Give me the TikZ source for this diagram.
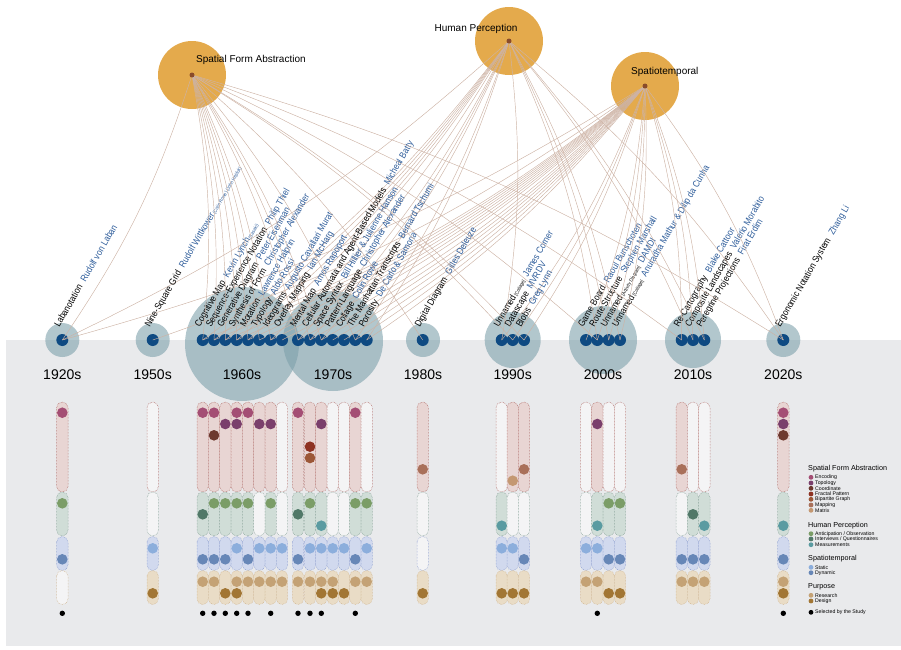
\documentclass[tikz,border=0pt]{standalone}
\usepackage{fontspec}
\setmainfont{Liberation Sans}
\newfontfamily\narrowfont{Liberation Sans}[FakeStretch=0.86]
\usepackage{tikz}
\usetikzlibrary{positioning}

\definecolor{bandgray}{HTML}{E9EAEC}
\definecolor{decteal}{HTML}{7EA1AB}
\definecolor{decblue}{HTML}{0E4A82}
\definecolor{catorange}{HTML}{E4AA4C}
\definecolor{catbrown}{HTML}{8A4B2A}
\definecolor{linkbrown}{HTML}{CDB3A5}
\definecolor{authorblue}{HTML}{2D5C9A}
% dot colours, one per row of the matrix
\definecolor{dot1}{HTML}{A44E74}
\definecolor{dot2}{HTML}{7A3F6C}
\definecolor{dot3}{HTML}{6D392F}
\definecolor{dot4}{HTML}{8E3222}
\definecolor{dot5}{HTML}{9C5737}
\definecolor{dot6}{HTML}{A9705A}
\definecolor{dot7}{HTML}{C49872}
\definecolor{dot8}{HTML}{7B9D67}
\definecolor{dot9}{HTML}{517868}
\definecolor{dot10}{HTML}{5A9BA1}
\definecolor{dot11}{HTML}{8CAEDC}
\definecolor{dot12}{HTML}{6787B7}
\definecolor{dot13}{HTML}{C4A275}
\definecolor{dot14}{HTML}{A27634}
% capsule colours
\definecolor{blankfill}{HTML}{F4F4F5}
\definecolor{spat1}{HTML}{E8D5D3}
\definecolor{spatB}{HTML}{A85A55}
\definecolor{hum1}{HTML}{D0DDD7}
\definecolor{humB}{HTML}{7E9C90}
\definecolor{tmp1}{HTML}{D1D9EE}
\definecolor{tmpB}{HTML}{8194CC}
\definecolor{pur1}{HTML}{E9DCC6}
\definecolor{purB}{HTML}{CDAF86}
\colorlet{spat0}{blankfill}
\colorlet{hum0}{blankfill}
\colorlet{tmp0}{blankfill}
\colorlet{pur0}{blankfill}

\tikzstyle{link} = [draw=linkbrown, line width=0.45pt]
\tikzstyle{decade} = [circle, fill=decteal, fill opacity=0.6, inner sep=0]
\tikzstyle{itemdot} = [circle, fill=decblue, minimum size=12pt, inner sep=0]
\tikzstyle{cat} = [circle, fill=catorange, minimum size=68pt, inner sep=0]
\tikzstyle{catdot} = [circle, fill=catbrown, minimum size=5pt, inner sep=0]
\tikzstyle{capsule} = [densely dotted, line width=0.5pt, rounded corners=5.6pt]
\tikzstyle{itemlabel} = [rotate=60, anchor=base west, inner sep=0, font=\narrowfont\fontsize{9.5}{10}\selectfont]
\tikzstyle{year} = [font=\fontsize{14}{16}\selectfont]
\tikzstyle{cattitle} = [inner sep=0, font=\fontsize{10}{12}\selectfont]
\tikzstyle{legtitle} = [anchor=west, inner sep=0, font=\fontsize{7.2}{8}\selectfont]
\tikzstyle{legitem} = [anchor=west, inner sep=0, font=\fontsize{5.2}{6}\selectfont]

\newcommand{\byauthor}[1]{\hspace{5pt}\textcolor{authorblue}{#1}}
\newcommand{\aside}[1]{{\fontsize{5}{5}\selectfont\,#1}}
\def\rowy{{412.7,424,435.3,446.7,458,469.3,480.7,503.3,514.3,525.7,548.3,559.3,581.7,593.3}}

\begin{document}
\begin{tikzpicture}[x=1pt, y=-1pt]
        \useasboundingbox (0,0) rectangle (901,649);
        \fill[bandgray] (6,340) rectangle (901,646);

        % decades
        \foreach \cx/\cy/\r/\yr [count=\k] in {62.3/340/17/1920s, 152.7/340/17/1950s, 242/344/57/1960s, 333/341/50/1970s, 423/340/17/1980s, 512.7/340/28/1990s, 603/340/34/2000s, 693/340/28/2010s, 783.3/340/17/2020s} {
            \node [decade, minimum size={2*\r*1pt}] (dec\k) at (\cx,\cy) {};
            \node [year] (yr\k) at (\cx,375) {\yr};
        }

        % categories
        \node [cat] (sfaC) at (192,75) {};
        \node [cat] (hpC) at (509,41) {};
        \node [cat] (stC) at (645,86) {};
        \coordinate (sfa) at (192,75);
        \coordinate (hp) at (509,41);
        \coordinate (st) at (645,86);

        % projects: x / name / author / spatial / human / spatiotemporal / purpose / selected / dots
        \foreach \x/\nm/\au/\fs/\fh/\ft/\fp/\sel/\dl [count=\i] in {
            62.3/Labanotation/{Rudolf von Laban}/1/1/1/0/1/{1,8,12},
            152.7/{Nine-Square Grid}/{Rudolf Wittkower\aside{(Colin Rowe) (John Hejduk)}}/0/0/1/1/0/{11,14},
            202.7/{Cognitive Map}/{Kevin Lynch\aside{(Sasaki)}}/1/1/1/1/1/{1,9,12,13},
            214/{Sequence-Experience Notation}/{Philip Thiel}/1/1/1/1/1/{1,3,8,12,13},
            225.3/{Generative Diagram}/{Peter Eisenman}/1/1/1/1/1/{2,8,12,14},
            236.7/{Synthesis of Form}/{Christopher Alexander}/1/1/1/1/1/{1,2,8,11,13,14},
            248/Motation/{Lawrence Halprin}/1/1/1/1/1/{1,8,12,13},
            259.3/Typology/{Aldo Rossi}/1/0/1/1/0/{2,11,13},
            270.7/Ideograms/{Augusto Cavallari Murat}/1/1/1/1/1/{2,8,11,13},
            282/{Overlay Mapping}/{Ian McHarg}/0/0/1/1/0/{11,13},
            298/{Mental Map}/{Amos Rapoport}/1/1/1/1/1/{1,9,12,13},
            310/{Cellular Automata and Agent-Based Models}/{Micheal Batty}/1/1/1/1/1/{4,5,8,11,13},
            321.3/{Space Syntax}/{Bill Hillier \& Julienne Hanson}/1/1/1/1/1/{2,10,11,13,14},
            332.7/{Pattern Language}/{Christopher Alexander}/0/0/1/1/0/{11,13,14},
            344/Collage/{Colin Rowe}/0/0/1/1/0/{11,14},
            355.3/{The Manhattan Transcripts}/{Bernard Tschumi}/1/1/1/1/1/{1,8,12,13},
            366.7/Porosity/{De Carlo \& Samona}/0/1/1/1/0/{8,11,13},
            422.7/{Digital Diagram}/{Gilles Deleuze}/1/0/0/1/0/{6,14},
            501.7/{Unnamed\aside{[Collage]}}/{James Corner}/0/1/1/1/0/{10,11,14},
            512.7/Datascape/MVRDV/1/0/1/1/0/{7,11,14},
            524/Blobs/{Greg Lynn}/1/0/1/1/0/{6,12,14},
            586/{Game Board}/{Raoul Bunschoten}/0/0/1/1/0/{11,13},
            597.3/{Route Structure}/{Stephen Marshall}/1/1/1/1/1/{2,10,11,13},
            608.7/{Unnamed\aside{[Activity Diagram]}}/DAMDI/0/1/1/1/0/{8,12,14},
            620/{Unnamed\aside{[Collage]}}/{Anuradha Mathur \& Dilip da Cunha}/0/1/1/1/0/{8,12,14},
            681.7/Re-Cartography/{Blake Cattoor}/1/0/1/1/0/{6,12,13},
            693/{Composite Landscapes}/{Valerio Morabito}/0/1/1/1/0/{9,12,13},
            704.3/{Peregrine Projections}/{Firat Erdim}/0/1/1/1/0/{10,12,13},
            783.3/{Ergonomic Notation System}/{Zhang Li}/1/1/1/1/1/{1,2,3,10,12,13,14}} {
            \draw [capsule, draw=spatB, fill=spat\fs] (\x-5.7,402) rectangle (\x+5.7,492);
            \draw [capsule, draw=humB, fill=hum\fh] (\x-5.7,492) rectangle (\x+5.7,536);
            \draw [capsule, draw=tmpB, fill=tmp\ft] (\x-5.7,536.5) rectangle (\x+5.7,570.5);
            \draw [capsule, draw=purB, fill=pur\fp] (\x-5.7,570.5) rectangle (\x+5.7,604.5);
            \foreach \d in \dl {
                \pgfmathsetmacro{\ry}{\rowy[\d-1]}
                \fill [fill=dot\d] (\x,\ry) circle (5.3pt);
            }
            \ifnum\sel=1 \fill (\x,613.3) circle (2.7pt); \fi
            \node [itemdot] (d\i) at (\x,340) {};
            \node [itemlabel] (lab\i) at (\x-3,328) {\nm\byauthor{\au}};
            \ifnum\fs=1 \draw [link] (sfa) to[bend left=8] (d\i.center); \fi
            \ifnum\fh=1 \draw [link] (hp) to[bend left=8] (d\i.center); \fi
            \ifnum\ft=1 \draw [link] (st) to[bend left=8] (d\i.center); \fi
        }

        \node [catdot] (sfaDot) at (sfa) {};
        \node [catdot] (hpDot) at (hp) {};
        \node [catdot] (stDot) at (st) {};
        \node [cattitle, anchor=west] (sfaL) at (196,60) {Spatial Form Abstraction};
        \node [cattitle] (hpL) at (476,29) {Human Perception};
        \node [cattitle, anchor=west] (stL) at (631,72) {Spatiotemporal};

        % legend
        \node [legtitle] (lgS) at (808,469) {Spatial Form Abstraction};
        \node [legtitle] (lgH) at (808,525.7) {Human Perception};
        \node [legtitle] (lgT) at (808,558.7) {Spatiotemporal};
        \node [legtitle] (lgP) at (808,586.7) {Purpose};
        \foreach \ly/\c/\txt [count=\j] in {477.3/1/Encoding, 483/2/Topology, 488.3/3/Coordinate, 494/4/{Fractal Pattern}, 499.3/5/{Bipartite Graph}, 505/6/Mapping, 510.3/7/Matrix, 533.7/8/{Anticipation / Observation}, 539/9/{Interviews / Questionnaires}, 544.7/10/Measurements, 567.3/11/Static, 572.7/12/Dynamic, 595.3/13/Research, 601/14/Design} {
            \fill [fill=dot\c] (811,\ly) circle (2.4pt);
            \node [legitem] (lg\j) at (815,\ly) {\txt};
        }
        \fill (811,612.3) circle (2.4pt);
        \node [legitem] (lgSel) at (815,612.3) {Selected by the Study};
    \end{tikzpicture}
\end{document}
